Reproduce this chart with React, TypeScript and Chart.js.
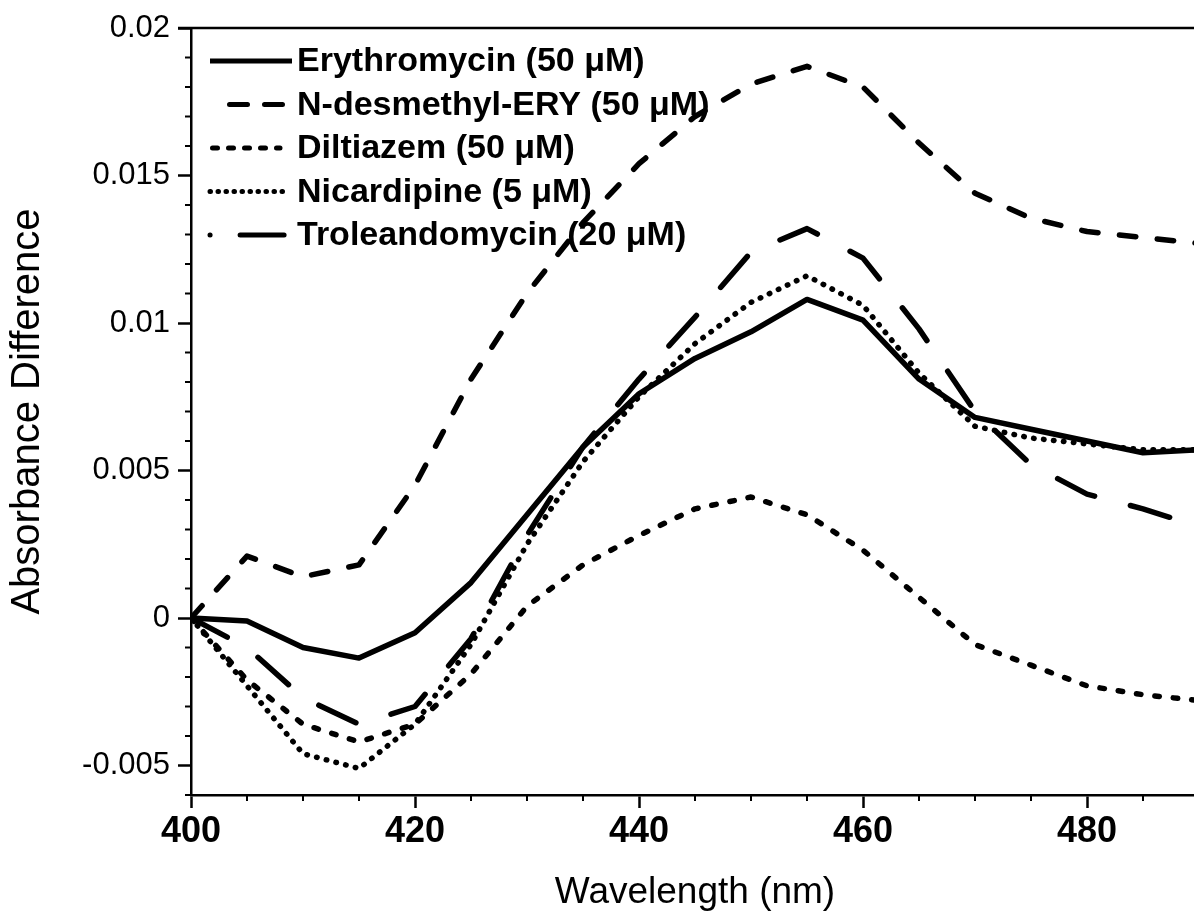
import React, { useEffect, useRef } from 'react';
import { Chart, registerables } from 'chart.js';

Chart.register(...registerables);

// ---------- data ----------
const wavelengths = [400, 405, 410, 415, 420, 425, 430, 435, 440, 445, 450, 455, 460, 465, 470, 475, 480, 485, 490];

const erythromycin = [0, -0.0001, -0.001, -0.00136, -0.0005, 0.0012, 0.0035, 0.0058, 0.0076, 0.0088, 0.0097, 0.0108, 0.0101, 0.0081, 0.0068, 0.0064, 0.006, 0.0056, 0.0057];
const nDesmethylEry = [0, 0.0021, 0.0014, 0.0018, 0.0045, 0.0081, 0.011, 0.0134, 0.0154, 0.017, 0.0181, 0.0187, 0.018, 0.0161, 0.0144, 0.01355, 0.0131, 0.0129, 0.0127];
const diltiazem = [0, -0.0021, -0.0036, -0.0042, -0.0036, -0.0019, 0.0004, 0.0018, 0.0028, 0.0037, 0.0041, 0.0035, 0.0023, 0.0007, -0.0009, -0.0016, -0.0023, -0.0026, -0.0028];
const nicardipine = [0, -0.0023, -0.0046, -0.0051, -0.0036, -0.0009, 0.0025, 0.0053, 0.0075, 0.0093, 0.0107, 0.0116, 0.0106, 0.0083, 0.0065, 0.0061, 0.0059, 0.0057, 0.0057];
const troleandomycin = [0, -0.001, -0.0027, -0.0036, -0.003, -0.0007, 0.0028, 0.0058, 0.0081, 0.0102, 0.0124, 0.0132, 0.0122, 0.0098, 0.007, 0.0052, 0.0042, 0.0037, 0.0031];

const seriesLabels = [
  'Erythromycin (50 μM)',
  'N-desmethyl-ERY (50 μM)',
  'Diltiazem (50 μM)',
  'Nicardipine (5 μM)',
  'Troleandomycin (20 μM)',
];

const xTickValues = [400, 420, 440, 460, 480];
const yTickValues = [-0.005, 0, 0.005, 0.01, 0.015, 0.02];
const xTitle = 'Wavelength (nm)';
const yTitle = 'Absorbance Difference';

// ---------- styles ----------
const FONT = "'Liberation Sans', Arial, Helvetica, sans-serif";
const LINE_W = 5.5;
const plotDash: number[][] = [[], [16.5, 21.5], [4.5, 14], [0.5, 9.5], [41, 37]];
const legendDash: number[][] = [[], [18, 17], [5, 11], [0.5, 7.5], [0.1, 30, 44, 200]];
const legendStart = [210, 229.5, 212.5, 210, 210];
const legendEnd = [292, 287, 280, 284, 289];
const legendRows = [61, 104.5, 148, 191.5, 235];

const minorTicks = {
  id: 'minorTicks',
  afterDraw(chart: any) {
    const { ctx, chartArea } = chart;
    const x = chart.scales.x;
    const y = chart.scales.y;
    ctx.save();
    ctx.strokeStyle = '#000';
    ctx.lineWidth = 2;
    for (let i = -6; i <= 20; i++) {
      if (i % 5 === 0) continue;
      const py = y.getPixelForValue(i / 1000);
      ctx.beginPath();
      ctx.moveTo(chartArea.left - 6, py);
      ctx.lineTo(chartArea.left, py);
      ctx.stroke();
    }
    for (let n = 400; n <= 490; n += 5) {
      if (n % 20 === 0) continue;
      const px = x.getPixelForValue(n);
      ctx.beginPath();
      ctx.moveTo(px, chartArea.bottom);
      ctx.lineTo(px, chartArea.bottom + 6);
      ctx.stroke();
    }
    // top frame line
    ctx.lineWidth = 2.5;
    ctx.beginPath();
    ctx.moveTo(chartArea.left - 13, chartArea.top);
    ctx.lineTo(chartArea.right, chartArea.top);
    ctx.stroke();
    ctx.restore();
  },
};

const customLegend = {
  id: 'customLegend',
  afterDatasetsDraw(chart: any) {
    const { ctx } = chart;
    ctx.save();
    chart.data.datasets.forEach((ds: any, i: number) => {
      const yy = legendRows[i];
      ctx.strokeStyle = '#000';
      ctx.lineWidth = 5;
      ctx.lineCap = i === 0 ? 'butt' : 'round';
      ctx.setLineDash(legendDash[i]);
      ctx.beginPath();
      ctx.moveTo(legendStart[i], yy);
      ctx.lineTo(legendEnd[i], yy);
      ctx.stroke();
      ctx.setLineDash([]);
      ctx.fillStyle = '#000';
      ctx.font = `bold 34px ${FONT}`;
      ctx.textBaseline = 'middle';
      ctx.textAlign = 'left';
      ctx.fillText(ds.label, 297, yy + 1);
    });
    ctx.restore();
  },
};

export default function App() {
  const canvasRef = useRef<HTMLCanvasElement | null>(null);

  useEffect(() => {
    const canvas = canvasRef.current;
    if (!canvas) return;
    const seriesValues = [erythromycin, nDesmethylEry, diltiazem, nicardipine, troleandomycin];
    const chart = new Chart(canvas, {
      type: 'line',
      data: {
        datasets: seriesValues.map((vals, i) => ({
          label: seriesLabels[i],
          data: wavelengths.map((w, k) => ({ x: w, y: vals[k] })),
          borderColor: '#000',
          backgroundColor: '#000',
          borderWidth: LINE_W,
          borderDash: plotDash[i],
          borderCapStyle: i === 0 ? 'butt' : 'round',
          borderJoinStyle: 'round',
          pointRadius: 0,
          tension: 0,
          fill: false,
        })),
      },
      options: {
        animation: false,
        responsive: false,
        devicePixelRatio: 1,
        layout: { padding: { top: 28, right: 1, left: 0, bottom: 0 } },
        plugins: { legend: { display: false }, tooltip: { enabled: false } },
        scales: {
          x: {
            type: 'linear',
            min: 400,
            max: 490,
            afterBuildTicks: (s: any) => {
              s.ticks = xTickValues.map((v) => ({ value: v }));
            },
            afterFit: (s: any) => {
              s.height = 125;
            },
            grid: { drawOnChartArea: false, tickLength: 13, tickWidth: 2.5, tickColor: '#000' },
            border: { color: '#000', width: 2.5 },
            ticks: {
              color: '#000',
              font: { family: FONT, size: 36, weight: 'bold' },
              padding: 2,
              maxRotation: 0,
              autoSkip: false,
              callback: (v: any) => String(v),
            },
            title: {
              display: true,
              text: xTitle,
              color: '#000',
              font: { family: FONT, size: 37 },
              padding: { top: 0, bottom: 5 },
            },
          },
          y: {
            type: 'linear',
            min: -0.006,
            max: 0.02,
            afterBuildTicks: (s: any) => {
              s.ticks = yTickValues.map((v) => ({ value: v }));
            },
            afterFit: (s: any) => {
              s.width = 191;
            },
            grid: { drawOnChartArea: false, tickLength: 13, tickWidth: 2.5, tickColor: '#000' },
            border: { color: '#000', width: 2.5 },
            ticks: {
              color: '#000',
              font: { family: FONT, size: 31 },
              padding: 8,
              autoSkip: false,
              callback: (v: any) => String(Number(Number(v).toFixed(4))),
            },
            title: {
              display: true,
              text: yTitle,
              color: '#000',
              font: { family: FONT, size: 40 },
              padding: { top: 4, bottom: 0 },
            },
          },
        },
      },
      plugins: [minorTicks, customLegend],
    } as any);
    return () => chart.destroy();
  }, []);

  return (
    <div style={{ position: 'fixed', left: 0, top: 0, width: 1194, height: 920, overflow: 'hidden', background: '#fff' }}>
      <canvas ref={canvasRef} width={1200} height={920} style={{ display: 'block', width: 1200, height: 920 }} />
    </div>
  );
}
